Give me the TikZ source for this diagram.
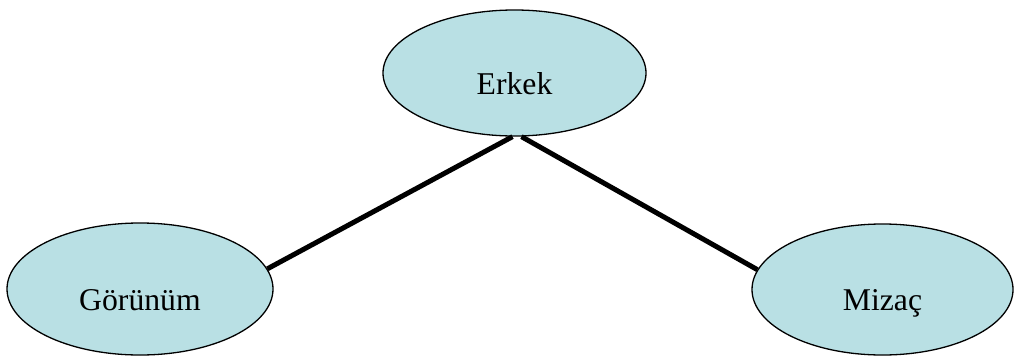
\documentclass[tikz,border=0pt]{standalone}
\usepackage{fontspec}
\setmainfont{Liberation Serif}
\usetikzlibrary{shapes.geometric}
\definecolor{ovalfill}{RGB}{185,224,228}
\begin{document}
\begin{tikzpicture}[x=1pt,y=-1pt,
  oval/.style={ellipse, draw=black, line width=1.3pt, fill=ovalfill, inner sep=0pt,
    text height=42pt, text depth=0pt,
    font=\fontsize{31.7}{38}\selectfont},
  link/.style={line width=5pt, black}]
\useasboundingbox (0,0) rectangle (1014,359);
\node[oval, minimum width=263pt, minimum height=126pt] (E) at (514.5,73) {Erkek};
\node[oval, minimum width=266pt, minimum height=132pt] (G) at (140,289) {Görünüm};
\node[oval, minimum width=261pt, minimum height=131pt] (M) at (882.5,289.5) {Mizaç};
\draw[link] ([xshift=-2pt]E.south) -- (G.9);
\draw[link] ([xshift=7pt]E.south) -- (M.171.5);
\end{tikzpicture}
\end{document}
